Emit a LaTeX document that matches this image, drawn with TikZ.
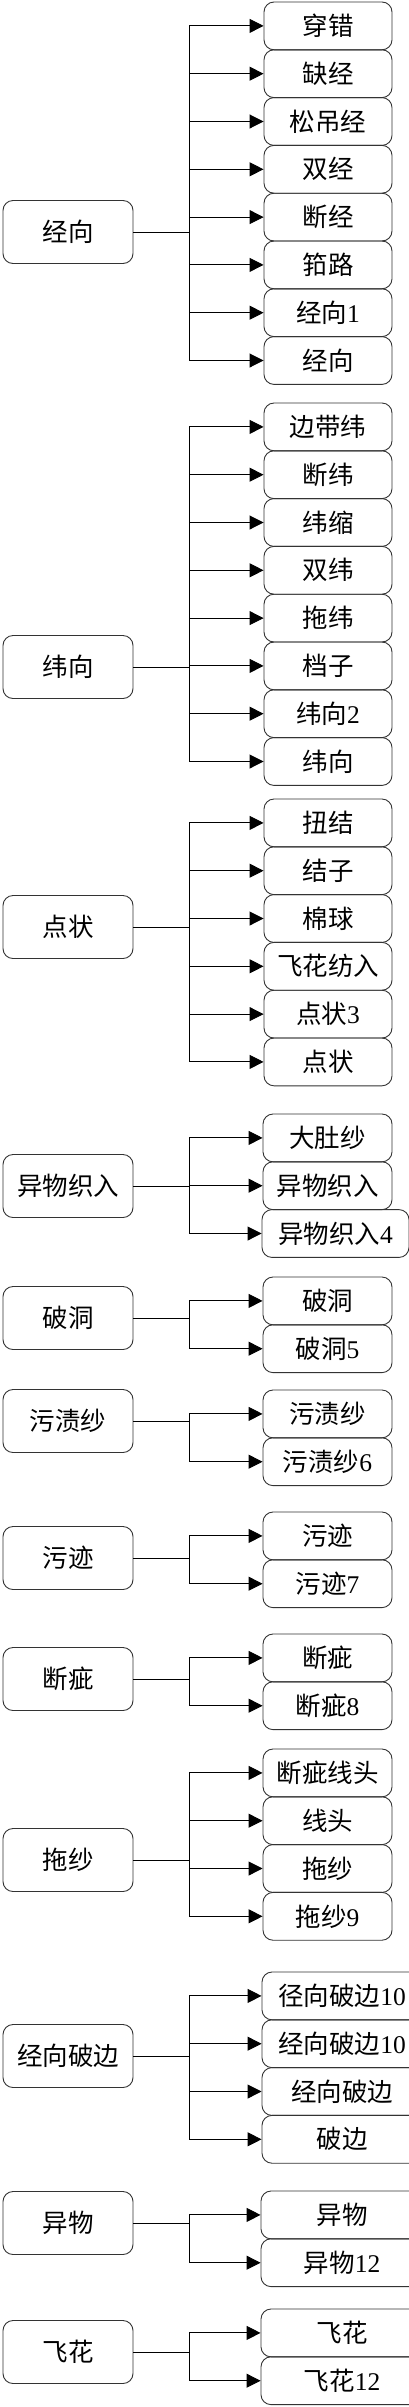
\documentclass[tikz,border=0pt]{standalone}
\usepackage{fontspec}
\setmainfont{Liberation Serif}
\newfontfamily\cjk{Noto Sans CJK SC}[Scale=1.0]
\usetikzlibrary{arrows.meta}
\newcommand\dgt[1]{{\rmfamily #1}}
\tikzset{
  rootbox/.style={draw=black!80, line width=0.9pt, rounded corners=10pt, inner sep=0pt,
    minimum width=130pt, minimum height=63pt, font=\cjk\fontsize{25.5}{25.5}\selectfont},
  kidbox/.style={draw=black!80, line width=0.9pt, rounded corners=10pt, inner sep=0pt,
    minimum width=128pt, minimum height=47.8pt, font=\cjk\fontsize{25.5}{25.5}\selectfont},
  conn/.style={draw=black, line width=0.9pt, -{Triangle[length=14pt,width=14pt]}},
}
\newcommand\mkgroup[7]{%
  \node[rootbox] (#1) at (68,#2) {#3};
  \coordinate (#1t) at (189,#2);
  \foreach \txt [count=\i] in {#5} {
    \node[kidbox, minimum width=#7pt] (#1c\i) at (#6,{#4+23.9+47.8*(\i-1)}) {\txt};
    \draw[conn] (#1.east) -- (#1t) |- (#1c\i.west);
  }
}
\begin{document}
\begin{tikzpicture}[x=1pt,y=-1pt]
\useasboundingbox (0,0) rectangle (409,2407);
\clip (0,0) rectangle (409,2407);
\fill[white] (0,0) rectangle (409,2407);
\mkgroup{ga}{232}{经向}{2}{穿错,缺经,松吊经,双经,断经,筘路,{经向\dgt{1}},经向}{328}{128}
\mkgroup{gb}{667}{纬向}{403}{边带纬,断纬,纬缩,双纬,拖纬,档子,{纬向\dgt{2}},纬向}{328}{128}
\mkgroup{gc}{927}{点状}{799}{扭结,结子,棉球,飞花纺入,{点状\dgt{3}},点状}{328}{128}
\mkgroup{gd}{1186}{异物织入}{1114}{大肚纱,异物织入}{327.5}{129}
\node[kidbox, minimum width=147pt] (gdc3) at (335.5,1233.5) {异物织入\dgt{4}};
\draw[conn] (gd.east) -- (gdt) |- (gdc3.west);
\mkgroup{ge}{1318}{破洞}{1277}{破洞,{破洞\dgt{5}}}{327.5}{129}
\mkgroup{gf}{1421}{污渍纱}{1390}{污渍纱,{污渍纱\dgt{6}}}{327.5}{129}
\mkgroup{gg}{1558}{污迹}{1512}{污迹,{污迹\dgt{7}}}{327.5}{129}
\mkgroup{gh}{1679}{断疵}{1634}{断疵,{断疵\dgt{8}}}{327.5}{129}
\mkgroup{gi}{1860}{拖纱}{1749}{断疵线头,线头,拖纱,{拖纱\dgt{9}}}{327.5}{129}
\mkgroup{gj}{2056}{经向破边}{1972}{{径向破边\dgt{10}},{经向破边\dgt{10}},经向破边,破边}{342}{160}
\mkgroup{gk}{2223}{异物}{2191}{异物,{异物\dgt{12}}}{342}{162}
\mkgroup{gl}{2352}{飞花}{2309}{飞花,{飞花\dgt{12}}}{342}{162}
\end{tikzpicture}
\end{document}
